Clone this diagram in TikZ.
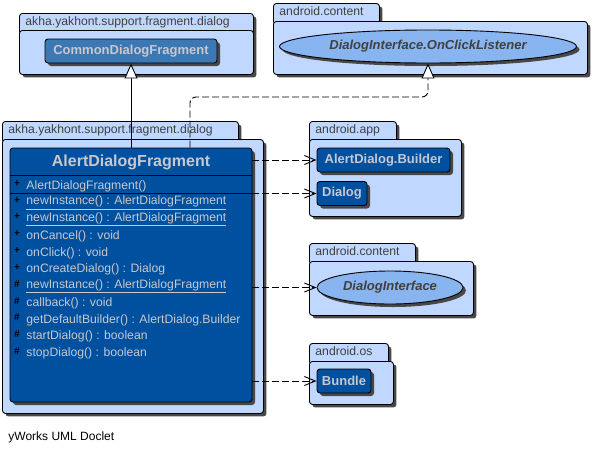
\documentclass[tikz,border=0pt]{standalone}
\usepackage{fontspec}
\setmainfont{Liberation Sans}
\usetikzlibrary{arrows.meta,shapes.geometric,shadows,positioning}
\definecolor{pkgfill}{RGB}{192,216,255}
\definecolor{clsfill}{RGB}{0,80,160}
\definecolor{superfill}{RGB}{60,120,180}
\definecolor{ifcfill}{RGB}{136,180,240}
\definecolor{clstext}{RGB}{200,200,206}
\definecolor{tabtext}{RGB}{64,64,64}
\definecolor{shadowgray}{RGB}{72,72,72}

\begin{document}
\begin{tikzpicture}[x=1pt, y=-1pt, line width=0.9pt,
   castshadow/.style={drop shadow={shadow xshift=3pt, shadow yshift=-3pt, fill=shadowgray, opacity=1}},
   tab/.style={draw, fill=pkgfill, rounded corners=3pt, castshadow, anchor=north west, inner xsep=6pt, inner ysep=3pt,
      text height=9.5pt, text depth=5.5pt, align=left, text=tabtext, font=\fontsize{12.2}{14}\selectfont},
   pkg/.style={draw, fill=pkgfill, rounded corners=3pt, castshadow, anchor=north west, inner sep=0pt},
   cls/.style={draw, fill=clsfill, rounded corners=3pt, castshadow, inner sep=0pt, minimum height=24pt,
      text=clstext, font=\fontsize{13}{15}\selectfont\bfseries},
   superclass/.style={cls, fill=superfill},
   ifc/.style={ellipse, draw, fill=ifcfill, castshadow, inner sep=0pt, minimum height=33pt,
      text=tabtext, font=\fontsize{13}{15}\selectfont\bfseries\itshape},
   member/.style={anchor=west, inner sep=0pt, text=clstext, font=\fontsize{12.2}{14}\selectfont},
   vis/.style={inner sep=0pt, text=black, font=\fontsize{10}{11}\selectfont\bfseries},
   dep/.style={dash pattern=on 7pt off 3pt, -{Straight Barb[length=11pt,width=9pt]}},
   inherit/.style={-{Triangle[length=15pt,width=13pt,fill=white]}},
   realize/.style={inherit, dash pattern=on 7pt off 3pt, rounded corners=6pt}]
   \useasboundingbox (0,0) rectangle (593,453);

   \node (supTab) at (19,13) [tab, text width=222pt] {akha.yakhont.support.fragment.dialog};
   \node (supPkg) at (19,30) [pkg, minimum width=234pt, minimum height=44pt] {};
   \node (cdf) at (131,51) [superclass, minimum width=172pt] {CommonDialogFragment};

   \node (lsnTab) at (273,3) [tab, text width=94pt] {android.content};
   \node (lsnPkg) at (273,21) [pkg, minimum width=314pt, minimum height=53pt] {};
   \node (ocl) at (428,46.5) [ifc, minimum width=297pt] {DialogInterface.OnClickListener};

   \node (fragTab) at (2,121) [tab, text width=224pt] {akha.yakhont.support.fragment.dialog};
   \node (fragPkg) at (2,139) [pkg, minimum width=261pt, minimum height=274pt] {};
   \node (cls) at (131,275) [cls, minimum width=242pt, minimum height=254pt] {};
   \node (title) at (131,162.5) [text=clstext, font=\fontsize{16}{18}\selectfont\bfseries] {AlertDialogFragment};
   \draw ([yshift=-28pt]cls.north west) -- ([yshift=-28pt]cls.north east);
   \draw ([yshift=-46pt]cls.north west) -- ([yshift=-46pt]cls.north east);
   \node (ctorvis) at (17,183.5) [vis] {+};
   \node (ctor) at (26,186) [member] {AlertDialogFragment()};
   \foreach \s/\t [count=\i] in {+/\underline{newInstance() : AlertDialogFragment},
      +/\underline{newInstance() : AlertDialogFragment}, +/onCancel() : void, +/onClick() : void,
      +/onCreateDialog() : Dialog, \#/\underline{newInstance() : AlertDialogFragment},
      \#/callback() : void, \#/getDefaultBuilder() : AlertDialog.Builder,
      \#/startDialog() : boolean, \#/stopDialog() : boolean} {
      \node (vis\i) at (17,183.5+16.75*\i) [vis] {\s};
      \node (m\i) at (26,186+16.75*\i) [member] {\t};
   }

   \node (appTab) at (309,121) [tab, text width=75pt] {android.app};
   \node (appPkg) at (309,139) [pkg, minimum width=152pt, minimum height=77pt] {};
   \node (adb) at (383.5,160) [cls, minimum width=133pt] {AlertDialog.Builder};
   \node (dlg) at (342,193.5) [cls, minimum width=50pt] {Dialog};

   \node (contTab) at (309,243) [tab, text width=94pt] {android.content};
   \node (contPkg) at (309,261) [pkg, minimum width=164pt, minimum height=54pt] {};
   \node (di) at (390,287.5) [ifc, minimum width=146pt] {DialogInterface};

   \node (osTab) at (309,343) [tab, text width=67pt] {android.os};
   \node (osPkg) at (309,361) [pkg, minimum width=84pt, minimum height=43pt] {};
   \node (bdl) at (344,381) [cls, minimum width=54pt] {Bundle};

   \draw[inherit] (cls.north -| cdf.south) -- (cdf.south);
   \coordinate (bend) at (190,97);
   \draw[realize] (bend |- cls.north) -- (bend) -- (bend -| ocl.south) -- (ocl.south);
   \draw[dep] (cls.east |- adb.west) -- (adb.west);
   \draw[dep] (cls.east |- dlg.west) -- (dlg.west);
   \draw[dep] (cls.east |- di.west) -- (di.west);
   \draw[dep] (cls.east |- bdl.west) -- (bdl.west);

   \node (doclet) at (8,437) [anchor=west, inner sep=0pt, font=\fontsize{12}{14}\selectfont] {yWorks UML Doclet};
\end{tikzpicture}
\end{document}
